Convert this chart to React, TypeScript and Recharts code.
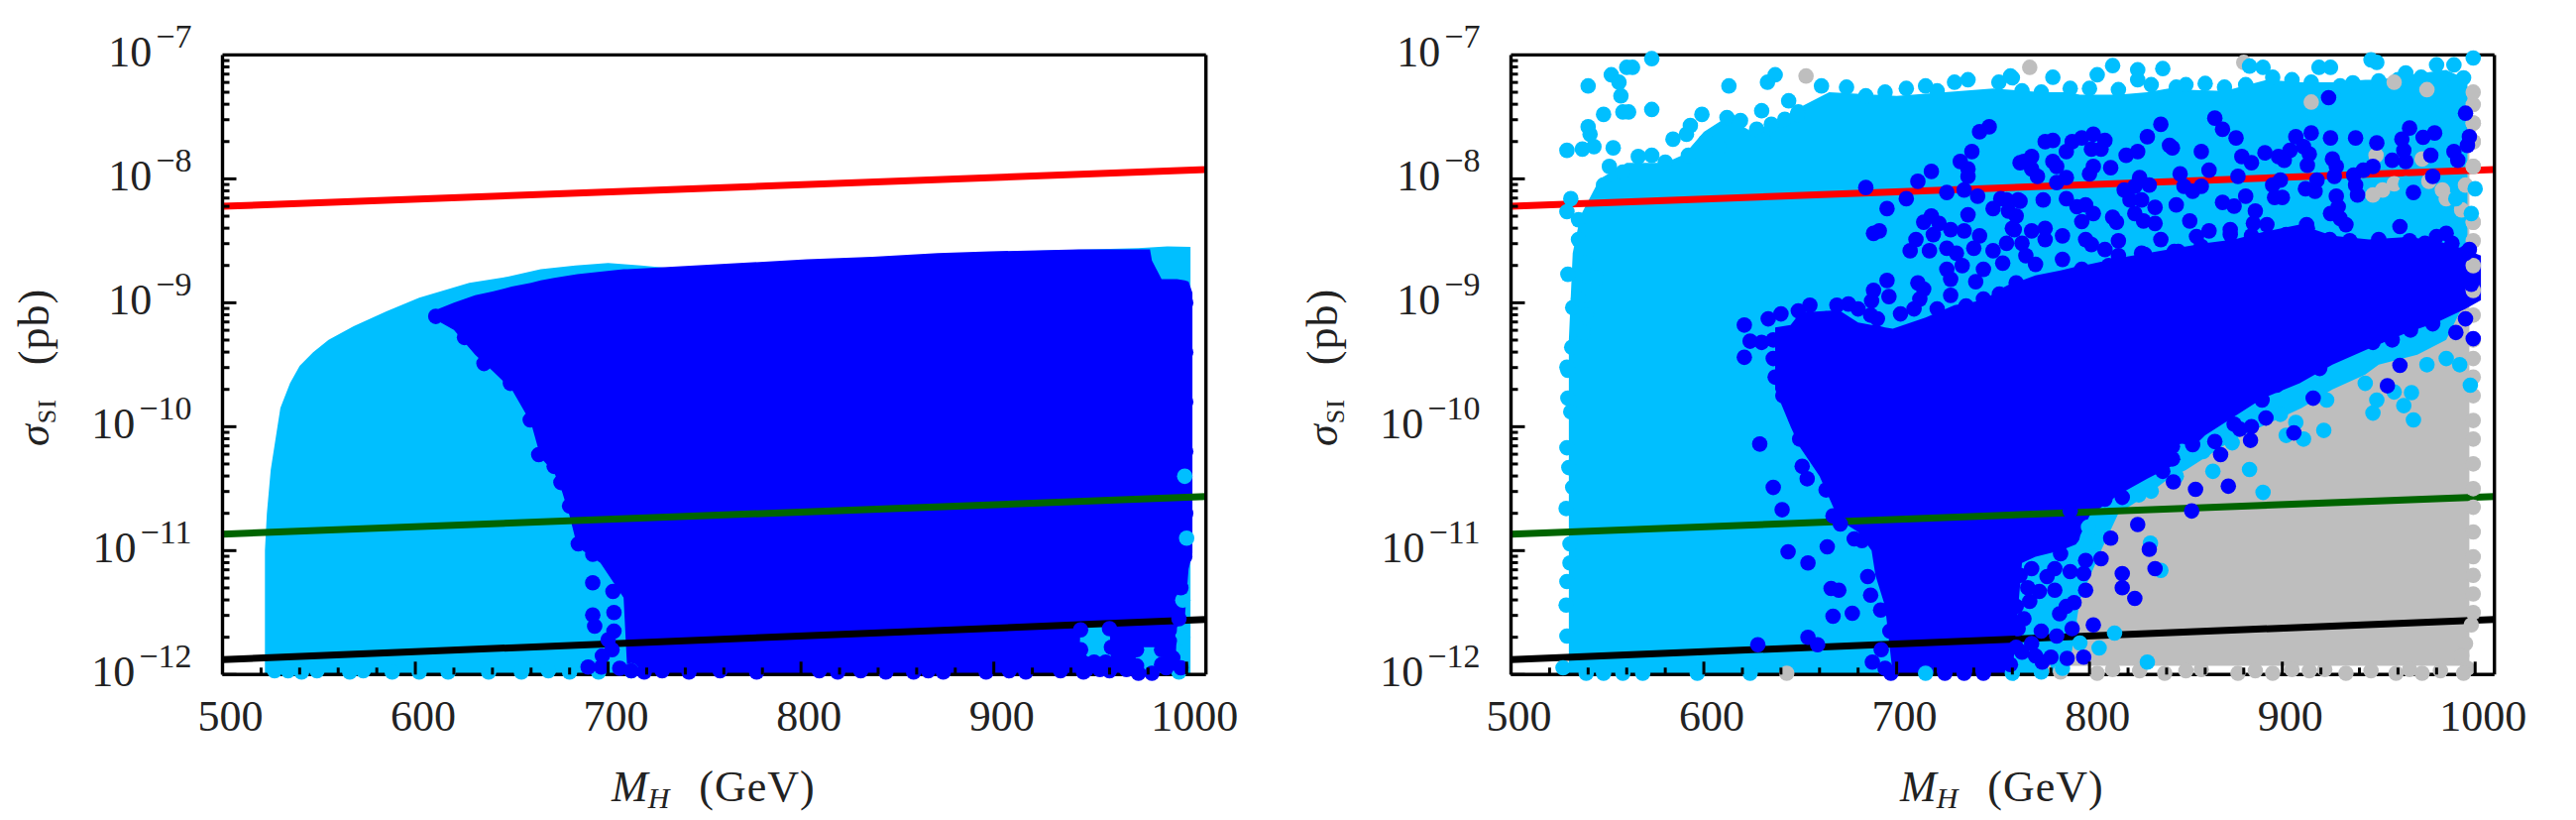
import React from "react";
import { ComposedChart, Area, Scatter, Line, XAxis, YAxis } from "recharts";

type Pair = number[];

// ---------- colours ----------
const CYAN = "#00BFFF";
const BLUE = "#0000FF";
const GRAY = "#BEBEBE";
const INK = "#222222";

// ---------- axes ----------
const xDomain = [500, 1010];
const yDomain = [1e-12, 1e-7];
const xTicks = [500,520,540,560,580,600,620,640,660,680,700,720,740,760,780,800,820,840,860,880,900,920,940,960,980,1000];
const xLabels = [500,600,700,800,900,1000];
const decades = [-12,-11,-10,-9,-8];
const mantissas = [1,2,3,4,5,6,7,8,9];
const yTicks: number[] = [...decades.flatMap((d) => mantissas.map((m) => Number(`${m}e${d}`))), 1e-7];

// ---------- limit curves, [mass GeV, sigma pb] ----------
const redLimit: Pair[] = [[500, 6.0e-9], [1010, 1.19e-8]];
const greenLimit: Pair[] = [[500, 1.36e-11], [1010, 2.73e-11]];
const blackLimit: Pair[] = [[500, 1.32e-12], [1010, 2.78e-12]];

// ---------- left panel: densely filled regions, [mass, log10 low, log10 high] ----------
const leftCyanBand: Pair[] = [
  [522,-12,-11],[523,-12,-10.7],[525,-12,-10.35],[530,-12,-9.85],[535,-12,-9.65],[540,-12,-9.51],[547,-12,-9.4],[555,-12,-9.3],
  [568,-12,-9.19],[585,-12,-9.07],[602,-12,-8.96],[628,-12,-8.84],[648,-12,-8.79],[665,-12,-8.73],[683,-12,-8.7],[700,-12,-8.68],
  [717,-12,-8.7],[731,-12,-8.72],[800,-12,-8.66],[900,-12,-8.59],[975,-12,-8.56],[990,-12,-8.545],[1002,-12,-8.55],
];
const leftBlueBand: Pair[] = [
  [612,-9.15,-9.05],[620,-9.22,-9.0],[631,-9.42,-8.94],[640,-9.55,-8.91],[650,-9.7,-8.87],[660,-9.97,-8.84],[665,-10.25,-8.82],
  [672,-10.37,-8.8],[676,-10.52,-8.79],[680,-10.72,-8.78],[684,-10.97,-8.77],[696,-11.1,-8.75],[708,-11.38,-8.73],[710,-12,-8.73],
  [768,-12,-8.68],[803,-12,-8.65],[837,-12,-8.63],[871,-12,-8.6],[898,-12,-8.585],[944,-12,-8.57],[945,-11.6,-8.57],[960,-11.6,-8.57],
  [961,-12,-8.57],[973,-12,-8.57],[974,-11.78,-8.57],[981,-11.78,-8.57],[982,-11.78,-8.66],[987,-11.78,-8.81],[988,-12,-8.81],[994,-12,-8.81],
  [995,-11.62,-8.81],[999,-11.55,-8.82],[1001,-11.15,-8.83],[1003,-11.02,-8.92],
];
// ---------- left panel: individual points, [mass, log10 sigma] ----------
const leftCyanDots: Pair[] = [
  [527,-11.97],[534,-11.97],[541,-11.98],[549,-11.97],[566,-11.98],[573,-11.97],[588,-11.98],[602,-11.98],[617,-11.98],[638,-11.98],
  [655,-11.98],[669,-11.97],[680,-11.98],[695,-11.98],[712,-11.97],[996,-11.98],[998,-11.7],[998,-11.4],[1000,-10.9],[999,-10.4],
];
const leftBlueDots: Pair[] = [
  [610.6,-9.11],[625.5,-9.28],[635.6,-9.49],[649.3,-9.65],[659.6,-9.945],[670,-10.09],[664,-10.225],[672,-10.32],[675.5,-10.45],[680,-10.64],
  [684.5,-10.945],[692,-11.03],[692,-11.26],[702.5,-11.33],[692,-11.52],[693,-11.61],[689.6,-11.94],[696.5,-11.94],[703,-11.5],[703,-11.65],
  [702,-11.8],[697,-11.85],[706,-11.95],[700,-11.72],
  [712,-11.97],[718.7,-11.98],[728,-11.97],[741.9,-11.98],[758,-11.97],[777,-11.98],[809.5,-11.97],[819,-11.98],[831,-11.97],[844,-11.98],
  [858.4,-11.98],[866,-11.97],[873.8,-11.98],[896,-11.98],[908,-11.97],[916.6,-11.98],[934.6,-11.97],[946.5,-11.98],[960,-11.97],[968.8,-11.96],
  [946,-11.9],[952,-11.9],[958,-11.9],[948,-11.96],[955,-11.96],[975,-11.99],[982,-11.99],[989.4,-11.945],[992.8,-11.865],
  [997,-11.945],[991,-11.73],[996,-11.55],[997,-11.3],[999,-11.05],[999.5,-10.7],[999.5,-10.2],
  [999.5,-9.8],[999.5,-9.4],[999.5,-9.0],
  [945,-11.64],[960,-11.63],[945,-11.8],[961,-11.78],[974,-11.8],[987,-11.8],[974,-11.93],[987,-11.92],
];

// ---------- right panel: densely filled regions ----------
const rightGrayBand: Pair[] = [
  [788,-11.93,-10.2],[950,-11.93,-7.5],[997,-11.93,-7.25],
];
const rightCyanBand: Pair[] = [
  [530,-12,-9.3],[532,-12,-8.6],[536,-12,-8.3],[546,-12,-8.0],[560,-12,-7.87],[580,-12,-7.87],[590,-12,-7.8],[600,-12,-7.62],[612,-12,-7.5],
  [625,-12,-7.62],[640,-12,-7.52],[650,-12,-7.42],[665,-12,-7.3],[700,-12,-7.33],[750,-12,-7.27],[775,-12,-7.3],[789,-12,-7.3],[795,-11.4,-7.32],
  [806,-11,-7.32],[815,-10.7,-7.32],[830,-10.55,-7.3],[841,-10.42,-7.27],[850,-10.35,-7.28],[870,-10.15,-7.29],[875,-10.1,-7.27],[892,-9.98,-7.2],
  [910,-9.85,-7.22],[926,-9.7,-7.22],[943,-9.58,-7.2],[950,-9.5,-7.2],[970,-9.42,-7.15],[985,-9.3,-7.12],[996,-8.95,-7.2],
];
const rightBlueBand: Pair[] = [
  [637,-9.7,-9.2],[645,-10,-9.18],[650,-10.17,-9.08],[660,-10.4,-9.07],[670,-10.75,-9.06],[680,-10.85,-9.16],[687,-11,-9.18],[689,-11.2,-9.18],
  [694,-11.45,-9.2],[698,-12,-9.21],[715,-12,-9.12],[730,-12,-9.02],[745,-12,-8.98],[755,-12,-8.88],[760,-12,-8.84],[765,-11.1,-8.82],[772,-11.05,-8.78],
  [785,-11.0,-8.74],[793,-10.95,-8.71],[800,-10.72,-8.69],[815,-10.55,-8.64],[830,-10.42,-8.6],[845,-10.3,-8.56],[860,-10.07,-8.52],
  [875,-9.92,-8.49],[890,-9.77,-8.43],[909,-9.65,-8.37],[926,-9.5,-8.46],[945,-9.37,-8.49],[965,-9.24,-8.47],[980,-9.16,-8.5],[995,-9.05,-8.57],[1003,-8.98,-8.62],
];
// ---------- right panel: individual points ----------
const rightGrayDots: Pair[] = [
  [653,-7.17],[769,-7.10],[880,-7.06],[643,-11.99],[776,-11.95],[785,-11.98],
  [999,-7.4],[999,-7.55],[999,-7.7],[999,-7.9],[999,-8.35],[999,-8.5],[999,-8.7],[999,-8.9],[999,-9.1],[999,-9.3],[999,-9.45],[999,-9.6],[999,-9.75],
  [999,-9.95],[999,-10.1],[999,-10.3],[999,-10.5],[999,-10.65],[999,-10.85],[999,-11.05],[999,-11.2],[999,-11.35],[999,-11.5],[998,-11.6],[995,-11.75],[993,-11.85],[996,-11.95],
  [804,-11.99],[839,-11.99],[877,-11.99],[895,-11.99],[933,-11.99],[959,-11.99],[972.5,-11.99],[994,-11.99],
  [812,-11.96],[826,-11.97],[850,-11.97],[858,-11.96],[886,-11.97],[905,-11.96],[914,-11.97],[922,-11.96],[946,-11.97],[966,-11.96],[982,-11.97],
];
const rightCyanDots: Pair[] = [
  [573,-7.03],[560,-7.10],[563,-7.1],[552,-7.16],[556,-7.22],[540,-7.25],[557,-7.33],[613,-7.25],[637,-7.16],[633,-7.22],[548,-7.48],[558,-7.46],[561,-7.46],
  [573,-7.44],[630,-7.45],[540,-7.58],[541,-7.64],[599,-7.48],[584,-7.68],[591,-7.64],[593,-7.57],[529,-7.77],[537,-7.76],[543,-7.74],[553,-7.75],
  [644,-7.37],[649,-7.46],[661,-7.25],[674,-7.26],[684,-7.33],[694,-7.30],[705,-7.27],[715,-7.25],[721,-7.29],[730,-7.22],[737,-7.20],[753,-7.22],[759,-7.17],
  [812,-7.086],[804,-7.16],[825,-7.12],[825,-7.2],[838,-7.11],[760,-7.185],[781,-7.18],[881,-7.24],[883,-7.09],[890,-7.10],[919,-7.10],[925,-7.10],
  [946,-7.04],[949,-7.06],[964,-7.145],[980,-7.08],[989,-7.08],[999,-7.025],[994,-7.185],[936.6,-7.225],[950,-7.21],[800,-7.27],[850,-7.24],[870,-7.26],[905,-7.2],[970,-7.22],[990,-7.25],
  [765,-7.29],[775,-7.3],[790,-7.27],[815,-7.28],[832,-7.24],[845,-7.26],[860,-7.23],[895,-7.18],[915,-7.22],[930,-7.25],[960,-7.2],[972,-7.18],
  [529.5,-9.545],[529.5,-9.77],[531,-9.88],[529,-10.17],[530,-10.33],[532,-10.49],[528.6,-10.66],[530.6,-10.945],[530.6,-11.10],[529,-11.25],[528.6,-11.44],[529,-11.69],[527,-11.945],
  [529.5,-8.77],[540,-8.785],[532,-9.04],[535,-8.97],[539,-9.10],[531.5,-9.36],[537.5,-9.24],[529,-9.52],[535,-8.49],[537.5,-8.57],[539,-8.68],[544.3,-8.80],[529,-8.265],[531,-8.16],
  [535,-8.33],[548,-8.05],[551,-7.90],[558,-7.945],[566,-7.82],[573,-7.81],[580,-7.865],[592,-7.81],[601,-7.70],[607.7,-7.745],[612,-7.505],[619,-7.53],[627.4,-7.60],[631,-7.69],[635,-7.56],[642,-7.52],[648.5,-7.48],
  [539,-11.99],[548,-11.99],[558,-11.99],[568.3,-11.99],[596.6,-11.99],[624,-11.99],[715,-11.99],
  [997.5,-9.665],[967,-9.725],[963,-9.83],[968,-9.945],[949,-9.785],[947,-9.89],[943,-9.65],[958,-9.72],[923,-9.785],[899,-9.90],[907,-9.965],[921.5,-10.03],[911,-10.10],[902,-10.07],
  [874,-10.13],[883,-10.345],[864,-10.36],[859,-10.2],[848,-10.2],[890,-10.53],[832,-10.52],[825.6,-10.55],[845,-10.40],
  [813,-11.665],[805,-11.785],[795,-11.745],[830,-11.90],[801,-10.93],[799.5,-10.81],[831.6,-10.94],[837,-11.16],[790,-11.6],[785,-11.85],[760,-11.99],[775,-11.98],[786,-11.95],
  [985,-9.45],[975,-9.5],[992,-9.5],
];
const rightGrayGaps: Pair[] = [
  [952,-8.09],[947,-8.13],[958,-8.04],[983,-8.09],[976,-8.02],[995,-8.05],[985,-8.16],[993,-8.25],[948.6,-7.81],[972.5,-7.84],[999,-7.55],[999,-7.7],[999,-7.9],[999,-8.35],
  [915,-7.38],[975,-7.28],[958,-7.22],[999,-7.3],
];
const rightTopCyan: Pair[] = [
  [964,-8.04],[990,-8.16],[1000,-8.08],[998,-8.28],
];
const rightBlueDots: Pair[] = [
  [748,-7.58],[743,-7.62],[739,-7.78],[733,-7.86],[737,-7.92],[737,-7.98],[764,-7.87],[718,-7.94],[711,-8.02],[684,-8.07],[705,-8.16],[695,-8.24],[726,-8.11],[742,-8.14],[735,-8.09],
  [754,-8.16],[763,-8.17],[750,-8.24],[758,-8.26],[737,-8.29],[718,-8.30],[714,-8.35],[722,-8.36],[691,-8.42],[688,-8.44],[719,-8.45],[728,-8.41],[735,-8.42],[743,-8.46],[710,-8.49],
  [707,-8.58],[717,-8.58],[726,-8.56],[731,-8.60],[740,-8.56],[750,-8.58],[757,-8.52],[761,-8.41],[755,-8.68],[726,-8.73],[734,-8.70],[745,-8.73],[728,-8.81],[741,-8.83],[695,-8.82],
  [711,-8.84],[714,-8.89],[688,-8.90],[696,-8.95],[712,-8.97],[762,-8.84],[728,-8.94],[687,-8.985],[669,-9.02],[675,-9.01],[655,-9.02],[690,-9.13],[621,-9.18],[624,-9.31],[630,-9.32],[621,-9.44],
  [924,-7.345],[995,-7.47],[865,-7.51],[869,-7.60],[876,-7.67],[837,-7.56],[830,-7.66],[841.5,-7.73],[843,-7.75],[858,-7.78],[879,-7.82],[884,-7.87],[802,-7.64],[796,-7.67],[791,-7.70],
  [788,-7.78],[781,-7.69],[777,-7.70],[808,-7.69],[806,-7.76],[801,-7.76],[770,-7.82],[766,-7.86],[770,-7.92],[773,-7.98],[781,-7.86],[783,-7.90],[825,-7.78],[819,-7.81],[802,-7.90],
  [800,-7.96],[811,-7.91],[847,-7.96],[862,-7.93],[877,-7.98],[826,-7.99],[788,-7.99],[783,-8.03],[891,-7.79],[898,-7.82],[901,-7.85],[907,-7.66],[915,-7.63],[904,-7.77],[911,-7.74],
  [914,-7.80],[913,-7.89],[925,-7.67],[938,-7.67],[949,-7.71],[926,-7.84],[928,-7.90],[966,-7.59],[962,-7.68],[973,-7.665],[979,-7.63],[963,-7.77],[957,-7.85],[964,-7.86],[977,-7.81],
  [989,-7.78],[991,-7.85],[997,-7.66],[996,-7.73],[947,-7.90],[942,-7.93],[937,-7.97],[978,-7.98],[968,-8.11],[899,-8.01],[895,-8.05],[918,-8.01],[927,-7.98],[912,-8.08],[917,-8.10],
  [900,-8.15],[896,-8.15],[938,-8.05],[928,-8.14],[939,-8.13],[925,-8.28],[929,-8.225],[930,-8.32],[933,-8.37],[881,-8.14],[869,-8.19],[875,-8.22],[886,-8.26],[885,-8.36],[884,-8.46],
  [892,-8.37],[853.5,-8.10],[858,-8.06],[849,-8.06],[845,-8.21],[834,-8.23],[827,-8.17],[821,-8.17],[818,-8.09],[831,-8.05],[823.5,-8.06],[823.5,-8.28],[828,-8.34],[834,-8.36],[852,-8.34],
  [812,-8.31],[814,-8.35],[764,-8.18],[776,-8.17],[788,-8.16],[793.5,-8.225],[798,-8.21],[802,-8.28],[796,-8.345],[777,-8.40],[777,-8.49],[786,-8.46],[770,-8.42],[757,-8.17],[762,-8.30],
  [760,-8.40],[765,-8.52],[767,-8.62],[798,-8.49],[801,-8.53],[808,-8.57],[815,-8.50],[815,-8.62],[837,-8.49],[827,-8.60],[846,-8.585],[855.5,-8.465],[862,-8.42],[873,-8.41],[913,-8.40],
  [961,-8.385],[950,-8.49],[966,-8.50],[974,-8.52],[980,-8.465],[985,-8.44],[988,-8.52],[997,-8.57],[998,-8.85],[995,-9.13],[990,-9.24],[999,-9.29],[978,-9.17],[957,-9.30],[966.5,-9.22],
  [947,-9.32],[961,-9.505],[954.5,-9.67],[916,-9.77],[889.5,-9.785],[897,-9.665],[891.5,-9.93],[906,-10.05],[884,-10.0],[883.5,-10.11],[875,-9.98],[878,-10.02],[874,-9.825],[868,-10.225],
  [865,-10.12],[853.5,-10.145],[854,-10.05],[843,-10.16],[843,-10.26],[838,-10.36],[825,-10.345],[843.5,-10.445],[855,-10.505],[872,-10.48],[817,-10.57],[808,-10.585],[853,-10.68],[790,-10.68],
  [825,-10.79],[811,-10.90],[831,-10.99],[834,-11.145],[806,-11.065],[798,-11.08],[791,-10.89],[817,-11.185],[817,-11.30],[823.5,-11.385],[790,-11.17],[797,-11.185],[798,-11.32],[785,-11.025],
  [782,-11.145],[770,-11.145],[778,-11.21],[774,-11.33],[782,-11.32],[769,-11.41],[792,-11.42],[788,-11.45],[784.5,-11.51],[802,-11.60],[763,-11.63],[775,-11.65],[791,-11.63],[783,-11.69],
  [788.4,-11.87],[797,-11.86],[780,-11.86],[772,-11.85],[759,-11.92],[765,-11.82],[775.5,-11.90],
  [764,-11.2],[768,-11.3],[762,-11.45],[766,-11.55],[770,-11.75],[762,-11.78],[697,-11.99],[725,-11.99],[735,-11.99],[745,-11.99],
  // scalloped upper rim of the dense core
  [633.4,-9.13],[640,-9.09],[649,-9.065],[663.4,-9.13],[680,-9.05],[686.5,-9.1],[702,-9.09],[709,-9.05],[721,-9.05],[736,-9.025],[745,-8.97],[753.3,-8.93],
  [772,-8.69],[786,-8.65],[796,-8.73],[810,-8.70],[828.6,-8.61],[844,-8.585],[858,-8.545],[873,-8.45],[882,-8.545],[902,-8.45],[912.6,-8.37],[924.6,-8.49],[935,-8.50],[950,-8.52],[995,-8.6],
  // lower rim of the dense core
  [919.4,-9.53],[904,-9.585],[868,-9.825],[858,-9.93],[847.5,-9.77],[840.6,-10.01],[828.6,-10.06],[813,-10.49],[803,-10.52],
  // left rim and isolated points
  [636,-9.3],[636,-9.45],[637,-9.6],[641,-9.75],
  [647,-9.785],[647.6,-9.93],[649.7,-10.1],[654,-10.1],[651,-10.32],[653.6,-10.42],[663.4,-10.51],[670.6,-10.61],[667,-10.72],[670.8,-10.785],[678,-10.905],[682,-10.92],
  [643.7,-11.01],[664,-10.97],[654,-11.1],[685,-11.21],[686.5,-11.36],[691.7,-11.48],[696.5,-11.65],[687.4,-11.90],[692,-11.8],[694,-11.95],[666,-11.305],[670,-11.32],[667,-11.53],[677,-11.505],
  [654,-11.70],[659,-11.76],[628,-11.76],[629,-10.14],[636,-10.49],[640.6,-10.67],
];

// ---------- helpers that turn the arrays into rows ----------
const curve = (a: Pair[]) => a.map(([x, y]) => ({ x, y }));
const points = (a: Pair[]) => a.map(([x, l]) => ({ x, y: Math.pow(10, l) }));
const band = (a: Pair[]) => a.map(([x, lo, hi]) => ({ x, band: [Math.pow(10, lo), Math.pow(10, hi)] }));

const FONT = "'Liberation Serif', 'DejaVu Serif', serif";
const dotShape = (fill: string) => (p: any) => <circle cx={p.cx} cy={p.cy} r={7.8} fill={fill} />;

const isMajorY = (v: number) => {
  const l = Math.log10(v);
  return Math.abs(l - Math.round(l)) < 1e-6;
};

const tickStroke = { stroke: "#000", strokeWidth: 3 };

const BottomTick = (p: any) => {
  const v = p.payload.value;
  const major = xLabels.includes(v);
  return (
    <g>
      <line x1={p.x} x2={p.x} y1={p.y} y2={p.y - (major ? 13 : 7)} {...tickStroke} />
      {major && (
        <text x={p.x + 8} y={p.y + 57} textAnchor="middle" fontFamily={FONT} fontSize={44} fill={INK}>{v}</text>
      )}
    </g>
  );
};
const TopTick = (p: any) => {
  const major = xLabels.includes(p.payload.value);
  return <line x1={p.x} x2={p.x} y1={p.y} y2={p.y + (major ? 13 : 7)} {...tickStroke} />;
};
const LeftTick = (p: any) => {
  const v = p.payload.value;
  const major = isMajorY(v);
  return (
    <g>
      {v !== 1e-7 && <line x1={p.x} x2={p.x + (major ? 14 : 7)} y1={p.y} y2={p.y} {...tickStroke} />}
      {major && (
        <text x={p.x - 31} y={p.y + 12} textAnchor="end" fontFamily={FONT} fontSize={44} fill={INK}>
          10
          <tspan dx={4} dy={-19} fontSize={34}>{"\u2212" + Math.abs(Math.round(Math.log10(v)))}</tspan>
        </text>
      )}
    </g>
  );
};
const RightTick = (p: any) => {
  const v = p.payload.value;
  if (v === 1e-7) return <g />;
  return <line x1={p.x} x2={p.x - (isMajorY(v) ? 14 : 7)} y1={p.y} y2={p.y} {...tickStroke} />;
};

const axisLine = { stroke: "#000", strokeWidth: 3.4 };

type PanelProps = {
  gray?: Pair[]; grayDots?: Pair[]; cyan: Pair[]; cyanDots: Pair[]; gaps?: Pair[]; topCyan?: Pair[]; blue: Pair[]; blueDots: Pair[];
};

const fillArea = (id: string, rows: Pair[], color: string) => (
  <Area key={id} data={band(rows)} dataKey="band" type="linear" stroke="none" fill={color} fillOpacity={1} dot={false} activeDot={false} isAnimationActive={false} legendType="none" />
);
const dots = (id: string, rows: Pair[], color: string) => (
  <Scatter key={id} data={points(rows)} shape={dotShape(color)} isAnimationActive={false} legendType="none" />
);
const limit = (id: string, rows: Pair[], color: string) => (
  <Line key={id} data={curve(rows)} dataKey="y" type="linear" stroke={color} strokeWidth={7} dot={false} activeDot={false} isAnimationActive={false} legendType="none" />
);

function Panel({ gray, grayDots, cyan, cyanDots, gaps, topCyan, blue, blueDots }: PanelProps) {
  return (
    <ComposedChart width={1300} height={827} margin={{ top: 54.4, right: 82.3, bottom: 0, left: 0 }}>
      {gray && fillArea("gray", gray, GRAY)}
      {grayDots && dots("grayDots", grayDots, GRAY)}
      {fillArea("cyan", cyan, CYAN)}
      {dots("cyanDots", cyanDots, CYAN)}
      {gaps && dots("gaps", gaps, GRAY)}
      {topCyan && dots("topCyan", topCyan, CYAN)}
      {fillArea("blue", blue, BLUE)}
      {dots("blueDots", blueDots, BLUE)}
      {limit("red", redLimit, "#FF0000")}
      {limit("green", greenLimit, "#006400")}
      {limit("black", blackLimit, "#000000")}
      <XAxis xAxisId={0} dataKey="x" type="number" domain={xDomain} ticks={xTicks} interval={0} height={146.7} tickSize={0} tickMargin={0} tickLine={false} axisLine={axisLine} tick={BottomTick} />
      <XAxis xAxisId="top" orientation="top" dataKey="x" type="number" domain={xDomain} ticks={xTicks} interval={0} height={1} tickSize={0} tickMargin={0} tickLine={false} axisLine={axisLine} tick={TopTick} />
      <YAxis yAxisId={0} dataKey="y" type="number" scale="log" domain={yDomain} ticks={yTicks} interval={0} width={224.5} tickSize={0} tickMargin={0} tickLine={false} axisLine={axisLine} tick={LeftTick} />
      <YAxis yAxisId="right" orientation="right" type="number" scale="log" domain={yDomain} ticks={yTicks} interval={0} width={1} tickSize={0} tickMargin={0} tickLine={false} axisLine={axisLine} tick={RightTick} />
      <text x={617} y={808} fontFamily={FONT} fontSize={44} fill={INK}>
        <tspan fontStyle="italic">M</tspan>
        <tspan fontStyle="italic" fontSize={30} dy={7}>H</tspan>
        <tspan dx={30} dy={-7} letterSpacing={1}>(GeV)</tspan>
      </text>
      <text transform="translate(49,450) rotate(-90)" fontFamily={FONT} fontSize={44} fill={INK}>
        <tspan fontStyle="italic">{"\u03C3"}</tspan>
        <tspan fontSize={26} dy={7} dx={1} letterSpacing={1}>SI</tspan>
        <tspan dx={34} dy={-7} letterSpacing={1}>(pb)</tspan>
      </text>
    </ComposedChart>
  );
}

export default function App() {
  return (
    <div style={{ position: "absolute", left: 0, top: 0, width: 2599, height: 827, background: "#fff" }}>
      <div style={{ position: "absolute", left: 0, top: 0 }}>
        <Panel cyan={leftCyanBand} cyanDots={leftCyanDots} blue={leftBlueBand} blueDots={leftBlueDots} />
      </div>
      <div style={{ position: "absolute", left: 1300, top: 0 }}>
        <Panel gray={rightGrayBand} grayDots={rightGrayDots} cyan={rightCyanBand} cyanDots={rightCyanDots} gaps={rightGrayGaps} topCyan={rightTopCyan} blue={rightBlueBand} blueDots={rightBlueDots} />
      </div>
    </div>
  );
}
